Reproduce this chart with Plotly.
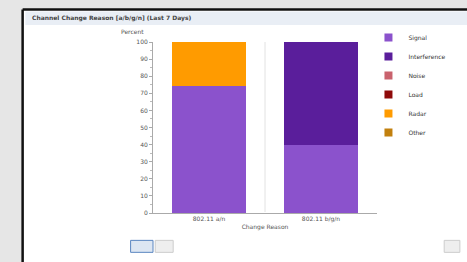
import plotly.graph_objects as go

categories = ["802.11 a/n", "802.11 b/g/n"]
series_names = ["Signal", "Interference", "Noise", "Load", "Radar", "Other"]
series_colors = ["#8b52cc", "#5a1e9b", "#c9626d", "#8e0a0a", "#ff9b00", "#c2800e"]
series_values = {
    "Signal": [74, 40],
    "Interference": [0, 60],
    "Noise": [0, 0],
    "Load": [0, 0],
    "Radar": [26, 0],
    "Other": [0, 0],
}
y_ticks = [0, 10, 20, 30, 40, 50, 60, 70, 80, 90, 100]

fig = go.Figure()
for name, color in zip(series_names, series_colors):
    fig.add_trace(go.Bar(x=categories, y=series_values[name], name=name,
                         marker=dict(color=color, line=dict(width=0)),
                         showlegend=False, width=0.66))
for name, color in zip(series_names, series_colors):
    fig.add_trace(go.Scatter(x=[None], y=[None], mode="markers", name=name,
                             marker=dict(symbol="square", size=8, color=color)))

F = "DejaVu Sans"
fig.update_layout(
    width=467, height=262, barmode="stack",
    paper_bgcolor="#e6e6e6", plot_bgcolor="white",
    margin=dict(l=153, r=90, t=42, b=49, autoexpand=False),
    font=dict(family=F, size=6, color="#555"),
    bargap=0.34,
    legend=dict(xref="container", yref="container", x=0.789, y=0.912,
                xanchor="left", yanchor="top", traceorder="normal",
                font=dict(size=6, color="#333"), bgcolor="rgba(0,0,0,0)",
                itemwidth=30, tracegroupgap=0),
    xaxis=dict(showline=True, linecolor="#aaa", showgrid=False,
               ticks="", tickfont=dict(size=6, color="#555"),
               title=dict(text="Change Reason", font=dict(size=6, color="#555"), standoff=2)),
    yaxis=dict(range=[0, 100], tickvals=y_ticks, showline=True, linecolor="#aaa",
               showgrid=False, ticks="outside", ticklen=3, tickcolor="#aaa",
               tickfont=dict(size=6, color="#555"),
               minor=dict(ticks="outside", ticklen=2, dtick=5, tickcolor="#bbb")),
    shapes=[
        dict(type="rect", xref="paper", yref="paper", x0=-0.582, x1=1.5, y0=-0.3, y1=1.19,
             fillcolor="white", line=dict(width=0), layer="below"),
        dict(type="line", xref="paper", yref="paper", x0=-0.582, x1=-0.582, y0=-0.3, y1=1.19,
             line=dict(color="#111", width=2.5)),
        dict(type="line", xref="paper", yref="paper", x0=-0.582, x1=1.5, y0=1.19, y1=1.19,
             line=dict(color="#111", width=2.5)),
        dict(type="rect", xref="paper", yref="paper", x0=-0.57, x1=1.5, y0=1.1, y1=1.178,
             fillcolor="#e9eef5", line=dict(width=0), layer="below"),
        dict(type="line", xref="x", yref="paper", x0=0.5, x1=0.5, y0=0, y1=1,
             line=dict(color="#e2e2e2", width=1), layer="below"),
        dict(type="rect", xref="paper", yref="paper", x0=-0.1, x1=0.0, y0=-0.23, y1=-0.16,
             fillcolor="#dde6f2", line=dict(color="#5b86c0", width=1)),
        dict(type="rect", xref="paper", yref="paper", x0=0.01, x1=0.09, y0=-0.23, y1=-0.16,
             fillcolor="#eeeeee", line=dict(color="#cccccc", width=1)),
        dict(type="rect", xref="paper", yref="paper", x0=1.3, x1=1.37, y0=-0.23, y1=-0.16,
             fillcolor="#eeeeee", line=dict(color="#cccccc", width=1)),
    ],
    annotations=[
        dict(text="<b>Channel Change Reason [a/b/g/n] (Last 7 Days)</b>", xref="paper", yref="paper",
             x=-0.55, y=1.14, xanchor="left", yanchor="middle", showarrow=False,
             font=dict(size=6, color="#444")),
        dict(text="Percent", xref="paper", yref="paper", x=-0.03, y=1.03, xanchor="right",
             yanchor="bottom", showarrow=False, font=dict(size=6, color="#555")),
    ],
)
fig.write_html("out.html", config={"displayModeBar": False},
               post_script="document.body.style.margin='0';document.body.style.overflow='hidden';")
